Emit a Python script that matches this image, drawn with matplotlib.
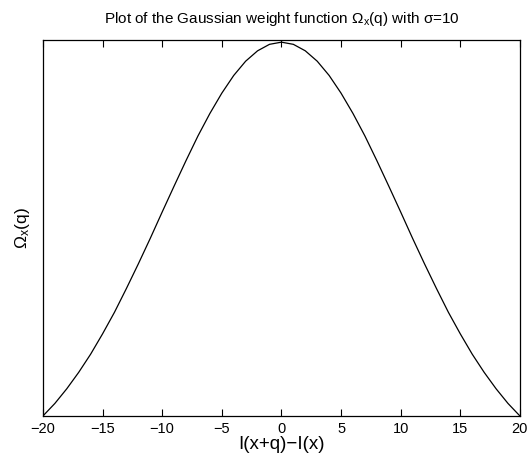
import matplotlib
matplotlib.use("Agg")
import matplotlib.pyplot as plt

plt.rcParams['font.family'] = ['Liberation Sans', 'DejaVu Sans']
plt.rcParams['mathtext.fontset'] = 'custom'
plt.rcParams['mathtext.rm'] = 'Liberation Sans'
plt.rcParams['mathtext.it'] = 'Liberation Sans:italic'

# q values and weight values
q_vals = list(range(-20, 21))
w_half = [1.000, 0.995, 0.980, 0.956, 0.923, 0.882, 0.835, 0.783, 0.726, 0.667,
          0.607, 0.546, 0.487, 0.430, 0.375, 0.325, 0.278, 0.236, 0.198, 0.164, 0.135]
w_vals = w_half[::-1] + w_half[1:]
x_ticks = [-20, -15, -10, -5, 0, 5, 10, 15, 20]

fig = plt.figure(figsize=(5.3, 4.62), dpi=100)
ax = fig.add_axes([0.081, 0.0996, 0.900, 0.8138])
ax.plot(q_vals, w_vals, color='black', linewidth=0.9)
ax.set_xlim(-20, 20)
ax.set_ylim(min(w_vals), max(w_vals) + 0.005)
ax.set_xticks(x_ticks)
ax.set_yticks([])
ax.tick_params(axis='x', direction='in', top=True, length=5, width=0.8, labelsize=10.5, pad=4.5)
for s in ax.spines.values():
    s.set_linewidth(0.9)
ax.set_title('Plot of the Gaussian weight function Ω$_{\\mathrm{x}}$(q) with σ=10', fontsize=11, pad=12)
ax.set_xlabel('I(x+q)−I(x)', fontsize=13.5, labelpad=0)
ax.set_ylabel('Ω$_{\\mathrm{x}}$(q)', fontsize=12.5, labelpad=8)
fig.savefig('out.png', dpi=100)
